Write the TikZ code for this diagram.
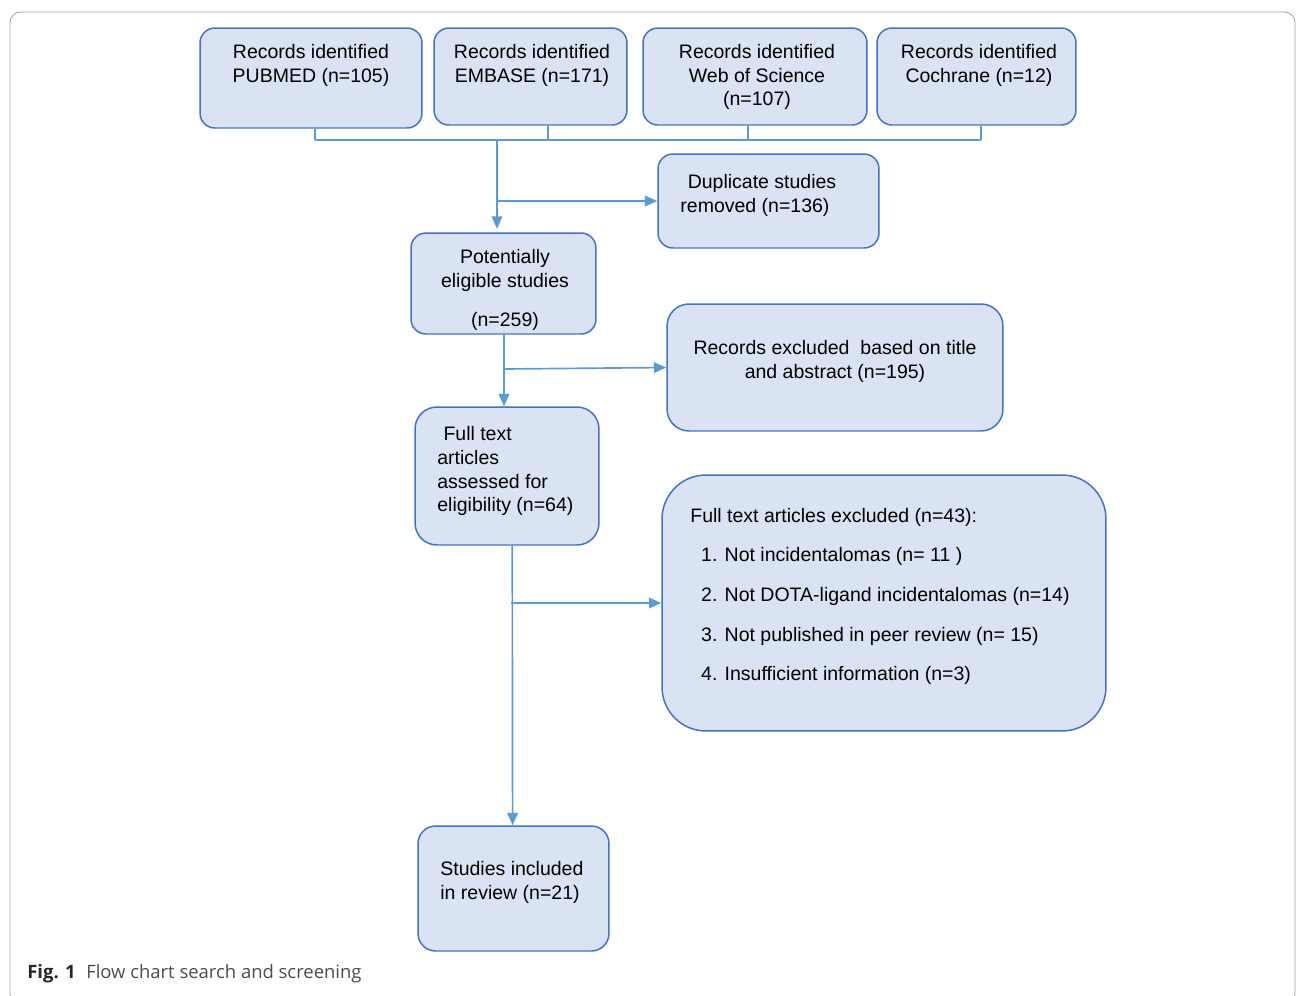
\documentclass[tikz,border=0pt]{standalone}
\usepackage{fontspec}
\setmainfont{Liberation Sans}
\newfontfamily\capfont{Open Sans}
\usetikzlibrary{arrows.meta}

\definecolor{boxfill}{HTML}{DAE3F3}
\definecolor{boxline}{HTML}{4472C4}
\definecolor{arrline}{HTML}{5B9BD5}

\tikzset{
  box/.style={draw=boxline, fill=boxfill, line width=0.85pt, inner sep=0pt, rounded corners=8.5pt},
  txt/.style={inner sep=0pt, align=center, font=\fontsize{11.1}{13.6}\selectfont},
  link/.style={draw=arrline, line width=0.6pt},
  arr/.style={draw=arrline, line width=0.95pt, -{Triangle[length=7pt,width=6pt]}},
}

\begin{document}
\begin{tikzpicture}[x=0.02cm, y=-0.02cm]

        \useasboundingbox (0,0) rectangle (1296,995);
        \draw[gray!70, line width=0.5pt, rounded corners=6pt] (10,12) rectangle (1295,1004);

        % boxes
        \node[box, minimum width=4.44cm, minimum height=2.00cm] (pubmed) at (311,78) {};
        \node[box, minimum width=3.86cm, minimum height=1.94cm] (embase) at (530.5,76.5) {};
        \node[box, minimum width=4.48cm, minimum height=1.94cm] (wos) at (755,76.5) {};
        \node[box, minimum width=3.98cm, minimum height=1.94cm] (cochrane) at (976.5,76.5) {};
        \node[box, minimum width=4.42cm, minimum height=1.88cm] (dup) at (768.5,201) {};
        \node[box, minimum width=3.70cm, minimum height=2.02cm] (pot) at (503.5,283.5) {};
        \node[box, minimum width=6.72cm, minimum height=2.54cm, rounded corners=12.5pt] (excl) at (835,367.5) {};
        \node[box, minimum width=3.68cm, minimum height=2.76cm, rounded corners=12.5pt] (full) at (507,476) {};
        \node[box, minimum width=8.88cm, minimum height=5.12cm, rounded corners=25pt] (ftex) at (884,603) {};
        \node[box, minimum width=3.82cm, minimum height=2.50cm, rounded corners=10pt] (incl) at (513.5,888.5) {};

        % texts
        \node[txt] (pubmed-t) at (311,65) {Records identified\\PUBMED (n=105)};
        \node[txt] (embase-t) at (532,65) {Records identified\\EMBASE (n=171)};
        \node[txt] (wos-t) at (757,77) {Records identified\\Web of Science\\(n=107)};
        \node[txt] (cochrane-t) at (979,65) {Records identified\\Cochrane (n=12)};
        \node[txt] (dup-t) at (755,195) {\hspace*{8pt}Duplicate studies\\removed (n=136)};
        \node[txt] (pot-t) at (505,290) {Potentially\\eligible studies\\[9pt](n=259)};
        \node[txt] (excl-t) at (835,361) {Records excluded\ \ based on title\\and abstract (n=195)};
        \node[txt, align=left, anchor=west] (full-t) at (437,471) {\hspace*{3.5pt}Full text\\articles\\assessed for\\eligibility (n=64)};
        \node[txt, align=left, anchor=west] (ftex-t) at (690,596.5) {Full text articles excluded (n=43):\\[9pt]
          \hspace*{6.2pt}1. Not incidentalomas (n= 11 )\\[9pt]
          \hspace*{6.2pt}2. Not DOTA-ligand incidentalomas (n=14)\\[9pt]
          \hspace*{6.2pt}3. Not published in peer review (n= 15)\\[9pt]
          \hspace*{6.2pt}4. Insufficient information (n=3)};
        \node[txt, align=left, anchor=west] (incl-t) at (440,882) {Studies included\\in review (n=21)};

        % joins
        \coordinate (p1) at (315,140);
        \coordinate (p2) at (548,140);
        \coordinate (p3) at (748,140);
        \coordinate (p4) at (981,140);
        \coordinate (j0) at (497,140);
        \coordinate (j1) at (497,201);
        \coordinate (j2) at (504,369);
        \coordinate (j3) at (511,603);

        \draw[link] (pubmed.south -| p1) to (p1);
        \draw[link] (embase.south -| p2) to (p2);
        \draw[link] (wos.south -| p3) to (p3);
        \draw[link] (cochrane.south -| p4) to (p4);
        \draw[link] (p1) to (p4);

        \draw[arr] (j0) to ([yshift=2pt]pot.north -| j0);
        \draw[arr] (j1) to (dup.west);
        \draw[arr] (pot.south -| j2) to (full.north -| j2);
        \draw[arr] (j2) to (excl.west);
        \draw[arr] ([xshift=3pt]full.south) to ([xshift=-0.5pt]incl.north);
        \draw[arr] (j3) to (ftex.west);

        % caption
        \node[anchor=base west, inner sep=0pt, font=\capfont\fontsize{10.5}{13}\selectfont] (cap) at (27,978)
          {\textcolor{black!85}{\bfseries Fig. 1}\hspace{6pt}\textcolor{black!70}{Flow chart search and screening}};

\end{tikzpicture}
\end{document}
